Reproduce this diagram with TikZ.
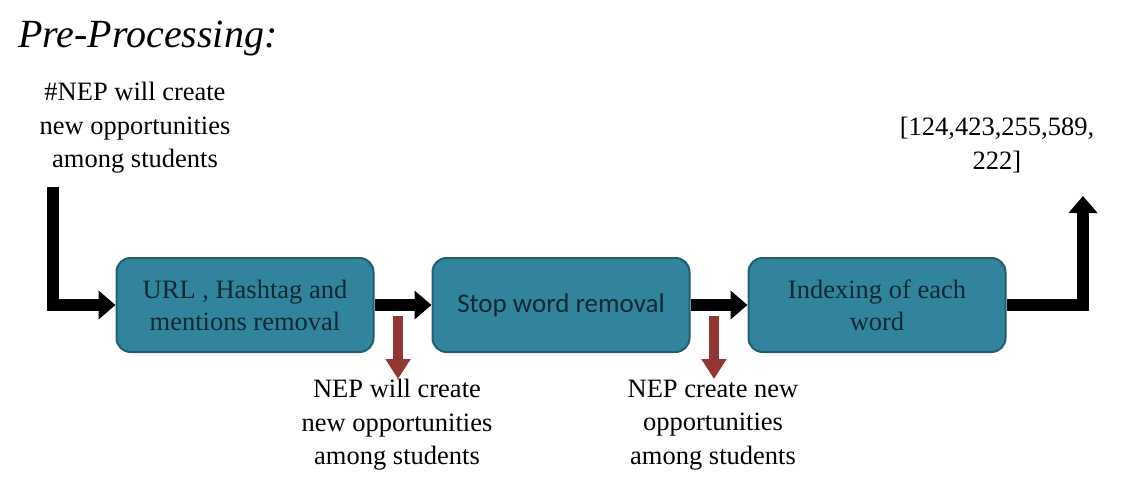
\documentclass[tikz,border=0pt]{standalone}
\usepackage{fontspec}
\setmainfont{Liberation Serif}
\newfontfamily\boxsans{Carlito}
\usetikzlibrary{arrows.meta}
\definecolor{boxfill}{HTML}{31849B}
\definecolor{boxedge}{HTML}{215E70}
\definecolor{redarrow}{HTML}{943634}
\definecolor{boxtext}{HTML}{0F2A35}
\begin{document}
\begin{tikzpicture}[x=1pt,y=-1pt,
  stagebox/.style={draw=boxedge,line width=2pt,fill=boxfill,rounded corners=14pt,
    minimum width=257pt,minimum height=94pt,align=center,text=boxtext,
    font=\fontsize{26.5}{32}\selectfont},
  plaintext/.style={align=center,font=\fontsize{26.5}{33.5}\selectfont},
  flow/.style={line width=12pt,line join=miter,-{Triangle[width=28pt,length=17pt]}},
  dropflow/.style={draw=redarrow,line width=10pt,-{Triangle[width=24pt,length=20pt]}}
]
\useasboundingbox (0,0) rectangle (1128,490);
\node[anchor=base west,inner sep=0pt,font=\fontsize{40}{46}\selectfont\itshape] (title) at (18,47) {Pre-Processing:};
\node[plaintext] (intext) at (135,128) {\#NEP will create\\new opportunities\\among students};
\node[plaintext] (outtext) at (997,145) {[124,423,255,589,\\222]};
\node[stagebox] (b1) at (245,305) {URL , Hashtag and\\mentions removal};
\node[stagebox,font=\boxsans\fontsize{27}{32}\selectfont] (b2) at (561,305) {Stop word removal};
\node[stagebox] (b3) at (877,305) {Indexing of each\\word};
\node[plaintext] (t1) at (397,425) {NEP will create\\new opportunities\\among students};
\node[plaintext] (t2) at (713,425) {NEP create new\\opportunities\\among students};
\coordinate (instart) at (53,187);
\coordinate (outend) at (1083,196);
\coordinate (d1) at (398,316);
\coordinate (d1e) at (398,379);
\coordinate (d2) at (714,316);
\coordinate (d2e) at (714,379);
\draw[flow] (instart) |- (b1.west);
\draw[flow] (b1.east) -- (b2.west);
\draw[flow] (b2.east) -- (b3.west);
\draw[flow] (b3.east) -| (outend);
\draw[dropflow] (d1) -- (d1e);
\draw[dropflow] (d2) -- (d2e);
\end{tikzpicture}
\end{document}
